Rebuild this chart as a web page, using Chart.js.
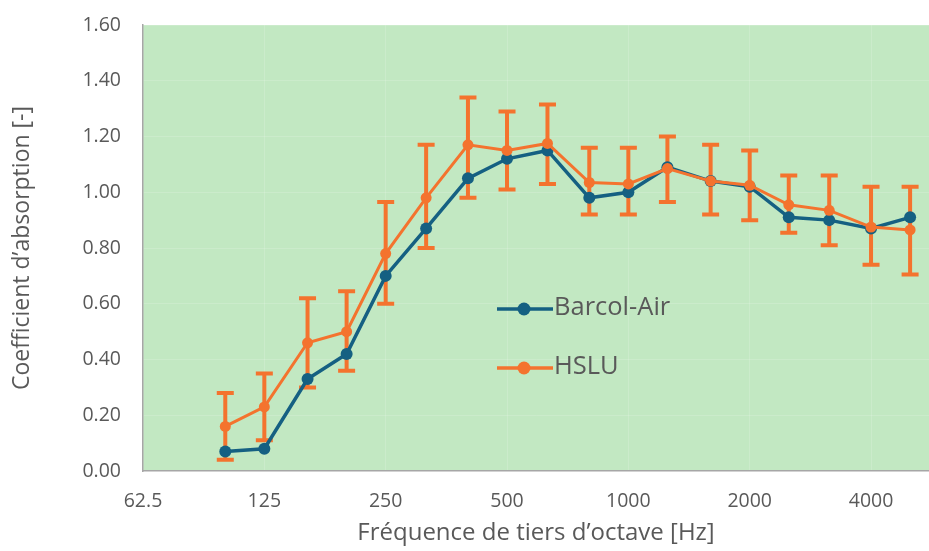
<!DOCTYPE html>
<html>
<head>
<meta charset="utf-8">
<script src="https://cdn.jsdelivr.net/npm/chart.js@4.4.1/dist/chart.umd.min.js"></script>
<style>
  html, body { margin: 0; padding: 0; background: #fff; overflow: hidden; }
  #wrap { width: 929px; height: 551px; }
  canvas { display: block; }
</style>
</head>
<body>
<div id="wrap"><canvas id="myChart" width="929" height="551"></canvas></div>
<script>
// third-octave band centre frequencies [Hz]
const freqs = [100, 125, 160, 200, 250, 315, 400, 500, 630, 800, 1000, 1250, 1600, 2000, 2500, 3150, 4000, 5000];
const barcol = [0.07, 0.08, 0.33, 0.42, 0.70, 0.87, 1.05, 1.12, 1.15, 0.98, 1.00, 1.09, 1.04, 1.02, 0.91, 0.90, 0.87, 0.91];
const hslu = [0.16, 0.23, 0.46, 0.50, 0.78, 0.98, 1.17, 1.15, 1.175, 1.035, 1.03, 1.085, 1.04, 1.025, 0.955, 0.935, 0.875, 0.865];
const hsluHigh = [0.28, 0.35, 0.62, 0.645, 0.965, 1.17, 1.34, 1.29, 1.315, 1.16, 1.16, 1.20, 1.17, 1.15, 1.06, 1.06, 1.02, 1.02];
const hsluLow = [0.04, 0.11, 0.30, 0.36, 0.60, 0.80, 0.98, 1.01, 1.03, 0.92, 0.92, 0.965, 0.92, 0.90, 0.855, 0.81, 0.74, 0.705];
const xTicks = [62.5, 125, 250, 500, 1000, 2000, 4000];

const BLUE = '#156082';
const ORANGE = '#F4732E';
const TXT = '#595959';
const FONT = "'Open Sans', 'Liberation Sans', sans-serif";

// green plot background
const plotBg = {
  id: 'plotBg',
  beforeDraw(chart) {
    const {ctx, chartArea: a} = chart;
    ctx.save();
    ctx.fillStyle = '#C2E8C2';
    ctx.fillRect(a.left, a.top, a.right - a.left, a.bottom - a.top);
    ctx.restore();
  }
};

// asymmetric error bars for HSLU, under the lines
const errorBars = {
  id: 'errorBars',
  beforeDatasetsDraw(chart) {
    const {ctx, scales: {x, y}} = chart;
    ctx.save();
    ctx.strokeStyle = ORANGE;
    ctx.lineWidth = 4;
    freqs.forEach((f, i) => {
      const px = x.getPixelForValue(f);
      const hi = y.getPixelForValue(hsluHigh[i]);
      const lo = y.getPixelForValue(hsluLow[i]);
      ctx.beginPath();
      ctx.moveTo(px, hi); ctx.lineTo(px, lo);
      ctx.moveTo(px - 8.5, hi); ctx.lineTo(px + 8.5, hi);
      ctx.moveTo(px - 8.5, lo); ctx.lineTo(px + 8.5, lo);
      ctx.stroke();
    });
    ctx.restore();
  }
};

// legend inside the plot
const innerLegend = {
  id: 'innerLegend',
  afterDraw(chart) {
    const {ctx} = chart;
    const items = [
      {label: 'Barcol-Air', color: BLUE, y: 309},
      {label: 'HSLU', color: ORANGE, y: 368}
    ];
    ctx.save();
    items.forEach(it => {
      ctx.strokeStyle = it.color;
      ctx.lineWidth = 3.5;
      ctx.beginPath();
      ctx.moveTo(497, it.y); ctx.lineTo(553, it.y);
      ctx.stroke();
      ctx.fillStyle = it.color;
      ctx.beginPath();
      ctx.arc(524, it.y, 6.5, 0, Math.PI * 2);
      ctx.fill();
      ctx.fillStyle = TXT;
      ctx.font = '25.5px ' + FONT;
      ctx.textBaseline = 'middle';
      ctx.fillText(it.label, 554, it.y - 1);
    });
    ctx.restore();
  }
};

const ctx = document.querySelector('#myChart');

new Chart(ctx, {
  type: 'line',
  data: {
    datasets: [{
      label: 'Barcol-Air',
      data: freqs.map((f, i) => ({x: f, y: barcol[i]})),
      borderColor: BLUE,
      backgroundColor: BLUE,
      borderWidth: 3.5,
      pointRadius: 6,
      pointBorderWidth: 0,
      tension: 0,
      order: 1
    }, {
      label: 'HSLU',
      data: freqs.map((f, i) => ({x: f, y: hslu[i]})),
      borderColor: ORANGE,
      backgroundColor: ORANGE,
      borderWidth: 3,
      pointRadius: 5.5,
      pointBorderWidth: 0,
      tension: 0,
      order: 0
    }]
  },
  options: {
    responsive: false,
    animation: false,
    layout: { autoPadding: false, padding: { top: 25, right: 0, left: 0, bottom: 0 } },
    plugins: {
      legend: { display: false },
      tooltip: { enabled: false }
    },
    scales: {
      x: {
        type: 'logarithmic',
        min: 62.5,
        max: 5570,
        afterBuildTicks: (scale) => { scale.ticks = xTicks.map(v => ({value: v})); },
        afterFit: (scale) => {
          scale.height = 80;
          scale.paddingLeft = 0;
          scale.paddingRight = 0;
        },
        ticks: {
          color: TXT,
          font: { family: FONT, size: 19.5 },
          padding: 19,
          maxRotation: 0,
          autoSkip: false,
          callback: (v) => String(v)
        },
        grid: { color: 'rgba(255,255,255,0.15)', drawTicks: false },
        border: { color: '#A6A6A6', width: 1.5 },
        title: {
          display: true,
          text: "Fréquence de tiers d\u2019octave [Hz]",
          color: TXT,
          font: { family: FONT, size: 24 },
          padding: { top: 0, bottom: 3 }
        }
      },
      y: {
        min: 0,
        max: 1.6,
        afterBuildTicks: (scale) => {
          const t = [];
          for (let v = 0; v <= 8; v++) t.push({value: v * 0.2});
          scale.ticks = t;
        },
        afterFit: (scale) => {
          scale.width = 143;
          scale.paddingTop = 0;
          scale.paddingBottom = 0;
        },
        ticks: {
          color: TXT,
          font: { family: FONT, size: 19.5 },
          padding: 22,
          callback: (v) => v.toFixed(2)
        },
        grid: { color: 'rgba(255,255,255,0.15)', drawTicks: false },
        border: { color: '#A6A6A6', width: 1.5 },
        title: {
          display: true,
          text: "Coefficient d\u2019absorption [-]",
          color: TXT,
          font: { family: FONT, size: 23 },
          padding: { bottom: 0, top: 9 }
        }
      }
    }
  },
  plugins: [plotBg, errorBars, innerLegend]
});
</script>
</body>
</html>
